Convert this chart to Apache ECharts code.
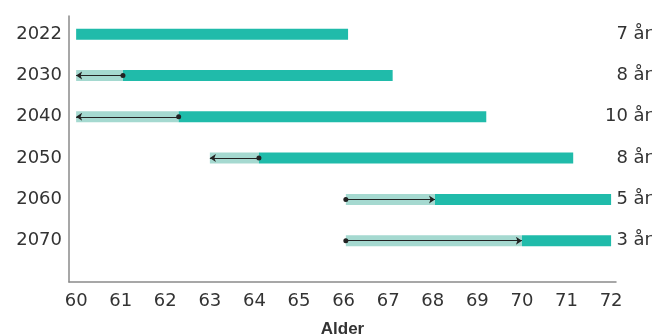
<!DOCTYPE html>
<html>
<head>
<meta charset="utf-8">
<script src="https://cdn.jsdelivr.net/npm/echarts@6/dist/echarts.min.js"></script>
<style>html,body{margin:0;padding:0;background:#fff}#c{width:656px;height:336px}</style>
</head>
<body>
<div id="c"></div>
<script>
// Data
var years = ['2022', '2030', '2040', '2050', '2060', '2070'];
var lightStart = [null, 60, 60, 63, 66.05, 66.05];
var darkStart = [60, 61.05, 62.3, 64.1, 68.05, 70];
var darkEnd = [66.1, 67.1, 69.2, 71.15, 72, 72];
var arrowDotAtDark = [null, true, true, true, false, false];
var durationLabels = ['7 år', '8 år', '10 år', '8 år', '5 år', '3 år'];
var xTicks = [60, 61, 62, 63, 64, 65, 66, 67, 68, 69, 70, 71, 72];

var DARK = '#20bbaa';
var LIGHT = '#a5d9d0';
var FONT = 'DejaVu Sans';
var TXT = '#333';
var rowIdx = years.map(function (_, i) { return i; });

var barData = [];
years.forEach(function (y, i) {
  if (lightStart[i] != null) barData.push([lightStart[i], darkStart[i], i, 0]);
  barData.push([darkStart[i], darkEnd[i], i, 1]);
});

var arrowData = [];
years.forEach(function (y, i) {
  if (lightStart[i] == null) return;
  var from = arrowDotAtDark[i] ? darkStart[i] : lightStart[i];
  var to = arrowDotAtDark[i] ? lightStart[i] : darkStart[i];
  arrowData.push({ coords: [[from, i], [to, i]] });
});

var chart = echarts.init(document.getElementById('c'), null, { renderer: 'canvas' });
chart.setOption({
  animation: false,
  grid: { left: 69, right: 40, top: 16, bottom: 54, containLabel: false, outerBoundsMode: 'none' },
  xAxis: {
    type: 'value', min: 59.84, max: 72.11,
    splitLine: { show: false },
    axisTick: { show: false },
    axisLine: { show: true, onZero: false, lineStyle: { color: '#8a8a8a', width: 1.5 } },
    axisLabel: {
      customValues: xTicks, color: TXT, fontFamily: FONT, fontSize: 18, margin: 10,
      formatter: function (v) { return String(Math.round(v)); }
    },
    name: 'Alder', nameLocation: 'middle', nameGap: 39,
    nameTextStyle: { fontFamily: 'Liberation Sans', fontWeight: 'bold', fontSize: 17, color: TXT }
  },
  yAxis: [{
    type: 'value', inverse: true, min: -0.44, max: 6.0,
    splitLine: { show: false },
    axisTick: { show: false },
    axisLine: { show: true, onZero: false, lineStyle: { color: '#8a8a8a', width: 1.5 } },
    axisLabel: {
      customValues: rowIdx, color: TXT, fontFamily: FONT, fontSize: 18, margin: 7,
      formatter: function (v) { return years[Math.round(v)]; }
    }
  }, {
    type: 'value', inverse: true, min: -0.44, max: 6.0, position: 'right',
    splitLine: { show: false },
    axisTick: { show: false },
    axisLine: { show: false, onZero: false },
    axisLabel: {
      customValues: rowIdx, color: TXT, fontFamily: FONT, fontSize: 18, margin: 36, align: 'right',
      formatter: function (v) { return durationLabels[Math.round(v)]; }
    }
  }],
  series: [{
    type: 'custom',
    data: barData,
    encode: { x: [0, 1], y: 2 },
    renderItem: function (params, api) {
      var p0 = api.coord([api.value(0), api.value(2)]);
      var p1 = api.coord([api.value(1), api.value(2)]);
      var h = 11;
      return {
        type: 'rect',
        shape: { x: p0[0], y: p0[1] - h / 2, width: p1[0] - p0[0], height: h },
        style: { fill: api.value(3) === 1 ? DARK : LIGHT }
      };
    },
    z: 2
  }, {
    type: 'lines',
    coordinateSystem: 'cartesian2d',
    data: arrowData,
    symbol: ['circle', 'arrow'],
    symbolSize: [5, 6],
    lineStyle: { color: '#222', width: 1, opacity: 1, curveness: 0 },
    z: 3
  }]
});
</script>
</body>
</html>
